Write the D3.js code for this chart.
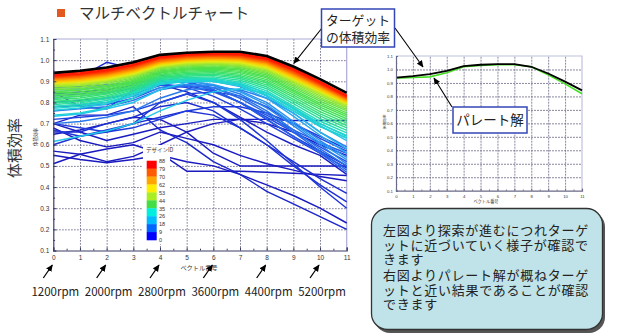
<!DOCTYPE html>
<html><head><meta charset="utf-8">
<script src="https://cdn.jsdelivr.net/npm/d3@7/dist/d3.min.js"></script>
<style>
html,body{margin:0;padding:0;background:#fff;}
svg{display:block;}
.jp{font-family:"Noto Sans CJK JP","Noto Sans",sans-serif;}
.jt{font-family:"Liberation Serif","Noto Sans CJK JP",sans-serif;}
.num{font-family:"Liberation Sans",Arial,sans-serif;}
</style></head><body>
<svg id="c" width="617" height="336"></svg>
<script>
// ---------------- data ----------------
const vectors = [0,1,2,3,4,5,6,7,8,9,10,11];
const yTicks = [0.1,0.2,0.3,0.4,0.5,0.6,0.7,0.8,0.9,1.0,1.1];
const legendTicks = [88,79,70,62,53,44,35,26,18,9,0];
const rpmVectors = [0,2,4,6,8,10];
const rpmLabels = ["1200rpm","2000rpm","2800rpm","3600rpm","4400rpm","5200rpm"];
const target = [0.94,0.95,0.965,0.99,1.025,1.035,1.04,1.04,1.02,0.97,0.91,0.845];
const pareto = [0.935,0.94,0.945,0.975,1.02,1.03,1.035,1.035,1.02,0.96,0.893,0.82];
const designIds = [0,1,2,3,4,5,6,7,8,9,10,11,12,13,14,15,16,17,18,19,20,21,22,23,24,25,26,27,28,29,30,32,34,36,37,39,41,43,44,45,46,48,50,52,54,56,58,60,62,64,66,68,70,72,74,76,78,80,82,84,86,88];
const designValues = [
 [0.65,0.67,0.70,0.73,0.72,0.66,0.56,0.50,0.50,0.50,0.50,0.50],
 [0.55,0.53,0.515,0.53,0.55,0.52,0.50,0.46,0.41,0.36,0.30,0.23],
 [0.51,0.555,0.58,0.60,0.56,0.475,0.475,0.475,0.47,0.465,0.46,0.455],
 [0.68,0.62,0.59,0.61,0.66,0.63,0.60,0.55,0.51,0.48,0.45,0.43],
 [0.57,0.555,0.52,0.545,0.60,0.66,0.70,0.72,0.70,0.66,0.60,0.55],
 [0.70,0.66,0.62,0.65,0.68,0.70,0.72,0.72,0.72,0.715,0.715,0.715],
 [0.85,0.78,0.77,0.86,0.885,0.85,0.80,0.73,0.66,0.60,0.55,0.46],
 [0.70,0.74,0.74,0.78,0.67,0.61,0.52,0.46,0.38,0.32,0.26,0.20],
 [0.88,0.92,0.99,0.96,0.93,0.90,0.86,0.80,0.72,0.64,0.57,0.50],
 [0.66,0.66,0.70,0.73,0.78,0.80,0.76,0.68,0.60,0.52,0.44,0.37],
 [0.60,0.64,0.67,0.70,0.73,0.76,0.74,0.68,0.60,0.50,0.41,0.33],
 [0.67,0.64,0.66,0.70,0.80,0.84,0.80,0.72,0.62,0.51,0.40,0.30],
 [0.70,0.68,0.66,0.68,0.72,0.76,0.78,0.78,0.75,0.70,0.64,0.58],
 [0.84,0.85,0.86,0.88,0.89,0.87,0.83,0.77,0.70,0.63,0.56,0.49],
 [0.72,0.73,0.74,0.76,0.80,0.84,0.85,0.83,0.78,0.70,0.63,0.57],
 [0.80,0.81,0.82,0.84,0.88,0.88,0.855,0.80,0.73,0.66,0.59,0.52],
 [0.78,0.785,0.79,0.82,0.87,0.875,0.85,0.80,0.74,0.67,0.61,0.56],
 [0.87,0.875,0.885,0.89,0.905,0.895,0.86,0.80,0.72,0.64,0.56,0.47],
 [0.83,0.84,0.85,0.87,0.90,0.895,0.87,0.82,0.75,0.66,0.57,0.48],
 [0.76,0.77,0.78,0.81,0.86,0.88,0.87,0.83,0.76,0.67,0.58,0.50],
 [0.70,0.71,0.73,0.76,0.82,0.86,0.87,0.86,0.82,0.75,0.66,0.59],
 [0.86,0.865,0.88,0.895,0.91,0.905,0.88,0.84,0.775,0.69,0.60,0.51],
 [0.78,0.79,0.80,0.83,0.87,0.885,0.88,0.855,0.80,0.71,0.62,0.54],
 [0.82,0.83,0.845,0.865,0.895,0.90,0.885,0.85,0.79,0.70,0.61,0.53],
 [0.80,0.805,0.82,0.85,0.89,0.905,0.90,0.875,0.82,0.735,0.645,0.56],
 [0.85,0.86,0.875,0.895,0.92,0.92,0.91,0.885,0.83,0.75,0.66,0.58],
 [0.735,0.745,0.77,0.80,0.86,0.895,0.905,0.89,0.845,0.77,0.69,0.62],
 [0.615,0.64,0.665,0.70,0.76,0.81,0.85,0.865,0.845,0.775,0.70,0.64],
 [0.763,0.774,0.793,0.832,0.888,0.90,0.899,0.88,0.834,0.76,0.686,0.631],
 [0.74,0.75,0.775,0.82,0.885,0.90,0.90,0.88,0.835,0.76,0.688,0.632],
 [0.772,0.782,0.801,0.839,0.894,0.907,0.907,0.889,0.845,0.772,0.699,0.644],
 [0.781,0.79,0.809,0.846,0.90,0.913,0.914,0.897,0.855,0.783,0.711,0.656],
 [0.79,0.798,0.817,0.853,0.906,0.919,0.921,0.905,0.865,0.794,0.723,0.668],
 [0.798,0.806,0.825,0.86,0.912,0.925,0.928,0.913,0.874,0.805,0.735,0.68],
 [0.806,0.813,0.832,0.867,0.918,0.931,0.934,0.92,0.883,0.815,0.746,0.691],
 [0.814,0.821,0.84,0.874,0.923,0.937,0.94,0.927,0.892,0.825,0.757,0.702],
 [0.822,0.829,0.847,0.88,0.929,0.943,0.946,0.934,0.90,0.835,0.768,0.713],
 [0.83,0.836,0.854,0.887,0.934,0.948,0.952,0.941,0.908,0.844,0.778,0.723],
 [0.838,0.843,0.861,0.893,0.939,0.953,0.958,0.947,0.916,0.853,0.788,0.733],
 [0.845,0.85,0.868,0.899,0.944,0.958,0.963,0.953,0.923,0.861,0.797,0.742],
 [0.851,0.858,0.875,0.905,0.949,0.963,0.968,0.959,0.93,0.869,0.806,0.751],
 [0.859,0.865,0.882,0.911,0.954,0.968,0.973,0.965,0.937,0.877,0.815,0.76],
 [0.866,0.872,0.889,0.917,0.959,0.973,0.978,0.97,0.943,0.884,0.823,0.768],
 [0.873,0.879,0.895,0.922,0.963,0.977,0.982,0.975,0.949,0.891,0.831,0.776],
 [0.878,0.884,0.90,0.926,0.967,0.981,0.986,0.979,0.954,0.897,0.838,0.783],
 [0.882,0.888,0.903,0.93,0.97,0.984,0.989,0.983,0.958,0.902,0.843,0.787],
 [0.886,0.892,0.907,0.933,0.973,0.987,0.992,0.986,0.962,0.906,0.848,0.791],
 [0.89,0.896,0.911,0.937,0.976,0.99,0.995,0.99,0.966,0.91,0.852,0.795],
 [0.893,0.899,0.914,0.94,0.979,0.993,0.998,0.993,0.97,0.914,0.856,0.798],
 [0.896,0.903,0.918,0.943,0.982,0.996,1.001,0.997,0.973,0.918,0.86,0.801],
 [0.90,0.906,0.921,0.946,0.985,0.999,1.004,1.0,0.977,0.922,0.864,0.804],
 [0.903,0.91,0.925,0.95,0.988,1.002,1.007,1.003,0.98,0.926,0.868,0.807],
 [0.906,0.913,0.928,0.953,0.991,1.005,1.01,1.006,0.984,0.93,0.872,0.81],
 [0.909,0.917,0.932,0.957,0.994,1.008,1.013,1.009,0.987,0.934,0.875,0.813],
 [0.912,0.92,0.935,0.96,0.997,1.011,1.016,1.012,0.99,0.937,0.878,0.816],
 [0.915,0.923,0.938,0.963,1.0,1.014,1.019,1.015,0.994,0.941,0.881,0.819],
 [0.918,0.927,0.942,0.967,1.004,1.017,1.022,1.018,0.997,0.945,0.885,0.822],
 [0.92,0.93,0.945,0.97,1.007,1.02,1.025,1.022,1.0,0.95,0.888,0.825],
 [0.924,0.933,0.948,0.974,1.01,1.023,1.028,1.025,1.004,0.953,0.892,0.828],
 [0.927,0.936,0.952,0.977,1.013,1.025,1.03,1.027,1.007,0.957,0.895,0.83],
 [0.93,0.94,0.955,0.98,1.015,1.028,1.032,1.03,1.01,0.96,0.897,0.832],
 [0.935,0.945,0.96,0.985,1.02,1.03,1.035,1.035,1.015,0.965,0.90,0.835]
];
const leftText = ["左図より探索が進むにつれターゲ","ットに近づいていく様子が確認で","きます"];
const rightText = ["右図よりパレート解が概ねターゲ","ットと近い結果であることが確認","できます"];
const targetLabel = ["ターゲット","の体積効率"];

// ---------------- styles ----------------
const legendColors = ["#ff0000","#ff5a00","#ffa500","#ffee00","#aaee22","#44dd44","#00eedd","#00bbff","#0066ff","#0000ff"];
const lineColor = d3.scaleLinear()
  .domain([4.5,13.5,22,26,31,37,45,53,60,66,74.5,83.5])
  .range(["#1a1ac0","#2040e0","#2a8cf0","#22c4ee","#20dcc0","#30e07c","#4ee04a","#9ae632","#e0ec18","#ffc400","#ff7400","#ff1a00"])
  .clamp(true);

const svg = d3.select("#c");
const defs = svg.append("defs");
defs.append("marker").attr("id","ah").attr("viewBox","0 0 10 10").attr("refX",9).attr("refY",5)
  .attr("markerWidth",7).attr("markerHeight",7).attr("markerUnits","userSpaceOnUse").attr("orient","auto")
  .append("path").attr("d","M0,0.5 L10,5 L0,9.5 z").attr("fill","#000");

// ---------------- title ----------------
svg.append("rect").attr("x",57).attr("y",9).attr("width",8).attr("height",8).attr("fill","#e2581e");
svg.append("text").attr("class","jp").attr("x",79).attr("y",19).attr("font-size",15.5).attr("fill","#333")
  .text("マルチベクトルチャート");

// ---------------- panel helper ----------------
function panel(xs, ys, o) {
  const g = svg.append("g");
  const x0 = xs(0), x1 = xs(11), yb = ys(0.1), yt = ys(1.1);
  g.append("g").attr("transform",`translate(0,${yb})`)
    .call(d3.axisBottom(xs).tickValues(vectors.slice(1,11)).tickSize(-(yb-yt)).tickFormat(""))
    .call(a=>a.select(".domain").remove())
    .call(a=>a.selectAll("line").attr("stroke",o.grid).attr("stroke-dasharray",o.dash).attr("stroke-width",o.gw));
  g.append("g").attr("transform",`translate(${x0},0)`)
    .call(d3.axisLeft(ys).tickValues(yTicks.slice(1,10)).tickSize(-(x1-x0)).tickFormat(""))
    .call(a=>a.select(".domain").remove())
    .call(a=>a.selectAll("line").attr("stroke",o.grid).attr("stroke-dasharray",o.dash).attr("stroke-width",o.gw));
  g.append("path").attr("d",`M${x0},${yt}H${x1}V${yb}`).attr("fill","none").attr("stroke",o.frame).attr("stroke-width",1.2);
  return g;
}
function axes(g, xs, ys, o) {
  const x0 = xs(0), yb = ys(0.1);
  const ax = g.append("g").attr("transform",`translate(${x0},0)`)
    .call(d3.axisLeft(ys).tickValues(yTicks).tickSize(-o.tk).tickPadding(o.pad).tickFormat(d3.format(".1f")));
  const minY = yTicks.slice(0,10).map(v=>v+0.05);
  g.append("g").attr("transform",`translate(${x0},0)`)
    .call(d3.axisLeft(ys).tickValues(minY).tickSize(-o.tk*0.6).tickFormat(""))
    .call(a=>a.select(".domain").remove());
  const bx = g.append("g").attr("transform",`translate(0,${yb})`)
    .call(d3.axisBottom(xs).tickValues(vectors).tickSize(-o.tk).tickPadding(o.pad+1).tickFormat(d3.format("d")));
  g.append("g").attr("transform",`translate(0,${yb})`)
    .call(d3.axisBottom(xs).tickValues(vectors.slice(0,11).map(v=>v+0.5)).tickSize(-o.tk*0.6).tickFormat(""))
    .call(a=>a.select(".domain").remove());
  g.selectAll(".domain").attr("stroke",o.axis).attr("stroke-width",1.2);
  g.selectAll(".tick line").attr("stroke",o.axis);
  [ax,bx].forEach(a=>a.selectAll("text").attr("class","num").attr("font-size",o.fs).attr("fill","#333"));
}

// ---------------- left chart ----------------
const xL = d3.scaleLinear().domain([0,11]).range([53.3,346.7]);
const yL = d3.scaleLinear().domain([0.1,1.1]).range([250.5,39]);
const gL = panel(xL, yL, {grid:"#9fa0cc", dash:"1.2,1.8", gw:0.9, frame:"#a9a9d8"});
const lineL = d3.line().x((d,i)=>xL(vectors[i])).y(d=>yL(d));
gL.append("g").selectAll("path").data(designValues).join("path")
  .attr("d",lineL).attr("fill","none").attr("stroke-width",1.45).attr("stroke-linejoin","round")
  .attr("stroke",(d,i)=>lineColor(designIds[i]));
gL.append("path").attr("d",lineL(target)).attr("fill","none").attr("stroke","#000").attr("stroke-width",2.6).attr("stroke-linejoin","round");
axes(gL, xL, yL, {tk:3, pad:4, fs:6.5, axis:"#3c3c66"});

svg.append("text").attr("class","jp").attr("font-size",15).attr("fill","#333").attr("text-anchor","middle")
  .attr("transform","translate(20,148) rotate(-90)").text("体積効率");
svg.append("text").attr("class","jp").attr("font-size",4.5).attr("fill","#333").attr("text-anchor","middle")
  .attr("transform","translate(37,137) rotate(-90)").text("体積効率");
svg.append("text").attr("class","jp").attr("font-size",6.2).attr("fill","#333").attr("text-anchor","middle")
  .attr("x",199).attr("y",270).text("ベクトル番号");

// legend
const legY = d3.scalePoint().domain(legendTicks).range([160.7,240]);
const lg = svg.append("g");
lg.append("rect").attr("x",143).attr("y",145).attr("width",27).attr("height",99).attr("fill","#fff");
lg.append("text").attr("class","jp").attr("x",146).attr("y",152).attr("font-size",5.5).attr("fill","#333").text("デザインID");
lg.selectAll("rect.sw").data(legendColors).join("rect").attr("class","sw")
  .attr("x",146.7).attr("width",10)
  .attr("y",(d,i)=>legY(legendTicks[i])).attr("height",(d,i)=>legY(legendTicks[i+1])-legY(legendTicks[i])+0.3)
  .attr("fill",d=>d);
lg.append("g").attr("transform","translate(157,0)")
  .call(d3.axisRight(legY).tickSize(0).tickPadding(2))
  .call(a=>a.select(".domain").remove())
  .call(a=>a.selectAll("text").attr("class","num").attr("font-size",5.5).attr("fill","#333"));

// rpm annotations
const rp = svg.append("g");
rp.selectAll("line").data(rpmVectors).join("line")
  .attr("x1",d=>xL(d)-10).attr("y1",278).attr("x2",d=>xL(d)-1).attr("y2",265)
  .attr("stroke","#000").attr("stroke-width",1.3).attr("marker-end","url(#ah)");
rp.selectAll("text").data(rpmVectors).join("text")
  .attr("class","jp").attr("x",d=>xL(d)+2).attr("y",296).attr("text-anchor","middle")
  .attr("font-size",11.5).attr("fill","#222").text((d,i)=>rpmLabels[i]);

// ---------------- right chart ----------------
const xR = d3.scaleLinear().domain([0,11]).range([396,582]);
const yR = d3.scaleLinear().domain([0.1,1.1]).range([190.7,56]);
const gR = panel(xR, yR, {grid:"#c4c6e0", dash:"2,1", gw:0.8, frame:"#c0c2de"});
const lineR = d3.line().x((d,i)=>xR(vectors[i])).y(d=>yR(d));
gR.append("path").attr("d",lineR(pareto)).attr("fill","none").attr("stroke","#44dd22").attr("stroke-width",1.6);
gR.append("path").attr("d",lineR(target)).attr("fill","none").attr("stroke","#000").attr("stroke-width",1.8);
axes(gR, xR, yR, {tk:2, pad:3, fs:4.3, axis:"#6a6a88"});
svg.append("text").attr("class","jp").attr("font-size",3.8).attr("fill","#333").attr("text-anchor","middle")
  .attr("transform","translate(386,122) rotate(-90)").text("体積効率");
svg.append("text").attr("class","jp").attr("font-size",4.2).attr("fill","#333").attr("text-anchor","middle")
  .attr("x",486).attr("y",203).text("ベクトル番号");

// ---------------- callouts ----------------
const an = svg.append("g");
an.append("line").attr("x1",322).attr("y1",28).attr("x2",xL(9)+0.5).attr("y2",yL(0.985))
  .attr("stroke","#000").attr("stroke-width",1.1).attr("marker-end","url(#ah)");
an.append("line").attr("x1",395).attr("y1",28).attr("x2",423).attr("y2",67)
  .attr("stroke","#000").attr("stroke-width",1.1).attr("marker-end","url(#ah)");
an.append("rect").attr("x",321.5).attr("y",9).attr("width",73).attr("height",38)
  .attr("fill","#fff").attr("stroke","#3346b8").attr("stroke-width",1.5);
an.append("text").attr("class","jt").attr("font-size",12.8).attr("fill","#222")
  .selectAll("tspan").data(targetLabel).join("tspan")
  .attr("x",326).attr("y",(d,i)=>25+i*17).text(d=>d);

an.append("line").attr("x1",452).attr("y1",107).attr("x2",434).attr("y2",78)
  .attr("stroke","#000").attr("stroke-width",1.1).attr("marker-end","url(#ah)");
an.append("rect").attr("x",453).attr("y",107).attr("width",74).attr("height",26)
  .attr("fill","#fff").attr("stroke","#3346b8").attr("stroke-width",1.5);
an.append("text").attr("class","jp").attr("x",490).attr("y",125).attr("text-anchor","middle")
  .attr("font-size",13.5).attr("fill","#222").text("パレート解");

// ---------------- note box ----------------
const nb = svg.append("g");
nb.append("rect").attr("x",374).attr("y",211).attr("width",231).attr("height",122).attr("rx",16)
  .attr("fill","#555");
nb.append("rect").attr("x",371.5).attr("y",208.5).attr("width",231).attr("height",121).attr("rx",16)
  .attr("fill","#bfe3e8").attr("stroke","#333").attr("stroke-width",1.3);
nb.append("text").attr("class","jt").attr("font-size",13).attr("letter-spacing",0.75).attr("fill","#222")
  .selectAll("tspan").data(leftText).join("tspan")
  .attr("x",383).attr("y",(d,i)=>235+i*14.5).text(d=>d);
nb.append("text").attr("class","jt").attr("font-size",13).attr("letter-spacing",0.75).attr("fill","#222")
  .selectAll("tspan").data(rightText).join("tspan")
  .attr("x",383).attr("y",(d,i)=>280+i*14.5).text(d=>d);
</script>
</body></html>
